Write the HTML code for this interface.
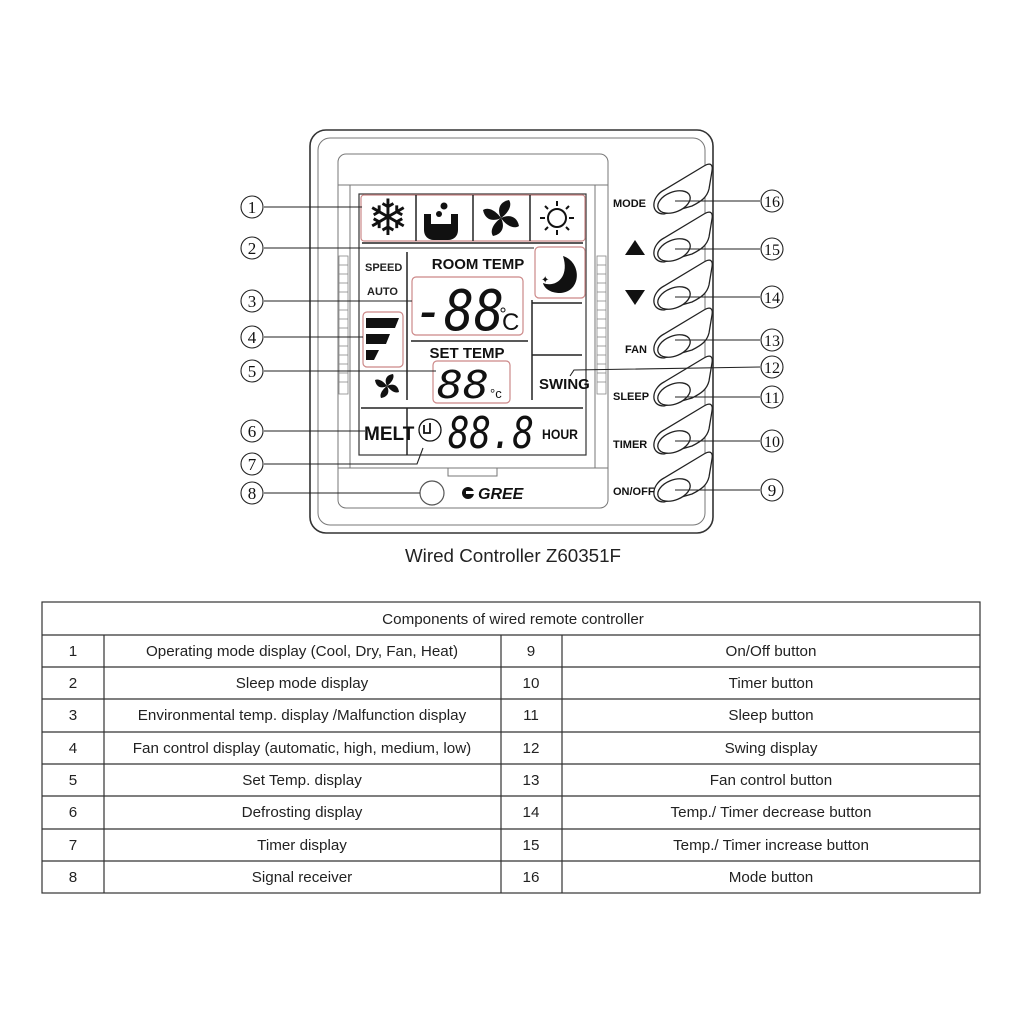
<!DOCTYPE html>
<html><head><meta charset="utf-8"><style>
body{margin:0;background:#fff;width:1024px;height:1024px;overflow:hidden}
svg{position:absolute;left:0;top:0}
</style></head><body>
<svg width="1024" height="1024" viewBox="0 0 1024 1024" font-family="Liberation Sans, sans-serif">
<defs>
<g id="btn">
<path d="M664 214 C650 214 651 197 664 190 L704 166 C711 162 713 165 712 171 L709 189 C707 197 702 201 692 206 Z" fill="#fff" stroke="#222" stroke-width="1.3"/>
<ellipse cx="674" cy="202" rx="17" ry="10" transform="rotate(-22 674 202)" fill="#fff" stroke="#222" stroke-width="1.3"/>
</g>
</defs>
<rect x="310" y="130" width="403" height="403" rx="16" fill="#fff" stroke="#333" stroke-width="1.6"/>
<rect x="318" y="138" width="387" height="387" rx="12" fill="none" stroke="#777" stroke-width="1"/>
<rect x="338" y="154" width="270" height="354" rx="8" fill="none" stroke="#777" stroke-width="1"/>
<line x1="338" y1="185" x2="608" y2="185" stroke="#777"/>
<line x1="338" y1="468" x2="608" y2="468" stroke="#777"/>
<line x1="350" y1="185" x2="350" y2="468" stroke="#777"/>
<line x1="595" y1="185" x2="595" y2="468" stroke="#777"/>
<rect x="448" y="468" width="49" height="8" fill="none" stroke="#777"/>
<g fill="none" stroke="#888" stroke-width="0.8">
<rect x="339" y="256" width="9" height="138"/>
<rect x="597" y="256" width="9" height="138"/>
</g>
<g stroke="#888" stroke-width="0.8">
<line x1="339" y1="265" x2="348" y2="265"/><line x1="339" y1="274" x2="348" y2="274"/><line x1="339" y1="283" x2="348" y2="283"/><line x1="339" y1="292" x2="348" y2="292"/><line x1="339" y1="301" x2="348" y2="301"/><line x1="339" y1="310" x2="348" y2="310"/><line x1="339" y1="319" x2="348" y2="319"/><line x1="339" y1="328" x2="348" y2="328"/><line x1="339" y1="337" x2="348" y2="337"/><line x1="339" y1="346" x2="348" y2="346"/><line x1="339" y1="355" x2="348" y2="355"/><line x1="339" y1="364" x2="348" y2="364"/><line x1="339" y1="373" x2="348" y2="373"/><line x1="339" y1="382" x2="348" y2="382"/>
<line x1="597" y1="265" x2="606" y2="265"/><line x1="597" y1="274" x2="606" y2="274"/><line x1="597" y1="283" x2="606" y2="283"/><line x1="597" y1="292" x2="606" y2="292"/><line x1="597" y1="301" x2="606" y2="301"/><line x1="597" y1="310" x2="606" y2="310"/><line x1="597" y1="319" x2="606" y2="319"/><line x1="597" y1="328" x2="606" y2="328"/><line x1="597" y1="337" x2="606" y2="337"/><line x1="597" y1="346" x2="606" y2="346"/><line x1="597" y1="355" x2="606" y2="355"/><line x1="597" y1="364" x2="606" y2="364"/><line x1="597" y1="373" x2="606" y2="373"/><line x1="597" y1="382" x2="606" y2="382"/>
</g>
<rect x="359" y="194" width="227" height="261" fill="#fff" stroke="#333" stroke-width="1.2"/>
<rect x="361" y="195" width="224" height="46" rx="3" fill="none" stroke="#c88" stroke-width="1.2"/>
<g stroke="#222" stroke-width="1.5">
<line x1="416" y1="195" x2="416" y2="241"/><line x1="473" y1="195" x2="473" y2="241"/><line x1="530" y1="195" x2="530" y2="241"/>
<line x1="362" y1="243" x2="583" y2="243"/>
<line x1="407" y1="252" x2="407" y2="400"/>
<line x1="411" y1="341" x2="528" y2="341"/>
<line x1="532" y1="300" x2="532" y2="400"/>
<line x1="532" y1="303" x2="582" y2="303"/><line x1="532" y1="355" x2="582" y2="355"/>
<line x1="361" y1="408" x2="583" y2="408"/>
<line x1="407" y1="408" x2="407" y2="455"/>
</g>
<text x="388" y="235" font-size="50" text-anchor="middle" fill="#111">❄</text>
<path d="M424 214 h7 v10 h20 v-10 h7 v16 c0 6 -4 10 -10 10 h-14 c-6 0 -10 -4 -10 -10z" fill="#111"/>
<circle cx="444" cy="206" r="3.5" fill="#111"/><circle cx="439" cy="214" r="3" fill="#111"/>
<g fill="#111" transform="translate(501,218)">
<path d="M0 0 C-4 -8 -2 -16 8 -18 C12 -12 6 -4 0 0Z"/>
<path d="M0 0 C8 -4 16 -2 18 8 C12 12 4 6 0 0Z"/>
<path d="M0 0 C4 8 2 16 -8 18 C-12 12 -6 4 0 0Z"/>
<path d="M0 0 C-8 4 -16 2 -18 -8 C-12 -12 -4 -6 0 0Z"/>
</g>
<g stroke="#111" stroke-width="2" fill="none">
<circle cx="557" cy="218" r="9"/>
<line x1="557" y1="201" x2="557" y2="206"/><line x1="557" y1="230" x2="557" y2="235"/><line x1="540" y1="218" x2="545" y2="218"/><line x1="569" y1="218" x2="574" y2="218"/>
<line x1="545" y1="206" x2="548" y2="209"/><line x1="566" y1="227" x2="569" y2="230"/><line x1="569" y1="206" x2="566" y2="209"/><line x1="548" y1="227" x2="545" y2="230"/>
</g>
<text x="365" y="271" font-size="11" font-weight="bold" fill="#222">SPEED</text>
<text x="367" y="295" font-size="11" font-weight="bold" fill="#222">AUTO</text>
<text x="478" y="269" font-size="15" font-weight="bold" text-anchor="middle" fill="#111">ROOM TEMP</text>
<rect x="535" y="247" width="50" height="51" rx="4" fill="none" stroke="#c88" stroke-width="1.2"/>
<path d="M563 256 C582 262 582 292 560 293 C550 293 544 288 543 283 C555 288 570 278 563 256Z" fill="#111"/>
<text x="541" y="283" font-size="10" fill="#111">✦</text>
<rect x="412" y="277" width="111" height="58" rx="4" fill="none" stroke="#c88" stroke-width="1.2"/>
<text x="414" y="330" font-size="56" font-family="DejaVu Sans Mono, monospace" fill="#111" textLength="90" lengthAdjust="spacingAndGlyphs" font-style="italic">-88</text>
<text x="502" y="330" font-size="24" fill="#111">C</text><circle cx="503" cy="310" r="2" fill="none" stroke="#111"/>
<text x="467" y="358" font-size="15" font-weight="bold" text-anchor="middle" fill="#111">SET TEMP</text>
<rect x="433" y="361" width="77" height="42" rx="4" fill="none" stroke="#c88" stroke-width="1.2"/>
<text x="437" y="398" font-size="38" font-family="DejaVu Sans Mono, monospace" fill="#111" textLength="52" lengthAdjust="spacingAndGlyphs" font-style="italic">88</text>
<text x="490" y="398" font-size="13" fill="#111">°c</text>
<rect x="363" y="312" width="40" height="55" rx="4" fill="none" stroke="#c88" stroke-width="1.2"/>
<path d="M366 318 h33 l-4 10 h-29z M366 334 h24 l-4 10 h-20z M366 350 h13 l-5 10 h-8z" fill="#111"/>
<g fill="#111" transform="translate(387,386)">
<path d="M0 0 C-3 -6 -1 -11 6 -12 C8 -8 4 -3 0 0Z"/>
<path d="M0 0 C6 -3 11 -1 12 6 C8 8 3 4 0 0Z"/>
<path d="M0 0 C3 6 1 11 -6 12 C-8 8 -4 3 0 0Z"/>
<path d="M0 0 C-6 3 -11 1 -12 -6 C-8 -8 -3 -4 0 0Z"/>
</g>
<text x="539" y="389" font-size="15" font-weight="bold" fill="#111">SWING</text>
<text x="364" y="440" font-size="19" font-weight="bold" fill="#111">MELT</text>
<circle cx="430" cy="430" r="11" fill="#fff" stroke="#111" stroke-width="1.3"/>
<path d="M424 425 v8 h6 v-10" fill="none" stroke="#111" stroke-width="1.8"/>
<text x="448" y="448" font-size="44" font-family="DejaVu Sans Mono, monospace" fill="#111" textLength="86" lengthAdjust="spacingAndGlyphs" font-style="italic">88.8</text>
<text x="542" y="439" font-size="14" font-weight="bold" fill="#111" textLength="36" lengthAdjust="spacingAndGlyphs">HOUR</text>
<circle cx="432" cy="493" r="12" fill="#fff" stroke="#555" stroke-width="1.2"/>
<circle cx="468" cy="493" r="6" fill="#111"/><rect x="466" y="491" width="8" height="3" fill="#fff"/>
<text x="478" y="499" font-size="16" font-weight="bold" font-style="italic" fill="#111">GREE</text>
<use href="#btn"/>
<use href="#btn" y="48"/>
<use href="#btn" y="96"/>
<use href="#btn" y="144"/>
<use href="#btn" y="192"/>
<use href="#btn" y="240"/>
<use href="#btn" y="288"/>
<g font-size="11" font-weight="bold" fill="#111">
<text x="613" y="207">MODE</text>
<text x="625" y="353">FAN</text>
<text x="613" y="400">SLEEP</text>
<text x="613" y="448">TIMER</text>
<text x="613" y="495">ON/OFF</text>
</g>
<path d="M635 240 l10 15 h-20z" fill="#111"/>
<path d="M625 290 h20 l-10 15z" fill="#111"/>
<g stroke="#222" stroke-width="1.1" fill="none">
<line x1="264" y1="207" x2="362" y2="207"/>
<line x1="264" y1="248" x2="534" y2="248"/>
<line x1="264" y1="301" x2="412" y2="301"/>
<line x1="264" y1="337" x2="363" y2="337"/>
<line x1="264" y1="371" x2="436" y2="371"/>
<line x1="264" y1="431" x2="365" y2="431"/>
<polyline points="264,464 417,464 423,448"/>
<line x1="264" y1="493" x2="420" y2="493"/>
<line x1="675" y1="201" x2="760" y2="201"/>
<line x1="675" y1="249" x2="760" y2="249"/>
<line x1="675" y1="297" x2="760" y2="297"/>
<line x1="675" y1="340" x2="760" y2="340"/>
<polyline points="760,367 574,370 570,376"/>
<line x1="675" y1="397" x2="760" y2="397"/>
<line x1="675" y1="441" x2="760" y2="441"/>
<line x1="675" y1="490" x2="760" y2="490"/>
</g>
<g fill="#fff" stroke="#222" stroke-width="1.1">
<circle cx="252" cy="207" r="11"/><circle cx="252" cy="248" r="11"/><circle cx="252" cy="301" r="11"/><circle cx="252" cy="337" r="11"/><circle cx="252" cy="371" r="11"/><circle cx="252" cy="431" r="11"/><circle cx="252" cy="464" r="11"/><circle cx="252" cy="493" r="11"/>
<circle cx="772" cy="201" r="11"/><circle cx="772" cy="249" r="11"/><circle cx="772" cy="297" r="11"/><circle cx="772" cy="340" r="11"/><circle cx="772" cy="367" r="11"/><circle cx="772" cy="397" r="11"/><circle cx="772" cy="441" r="11"/><circle cx="772" cy="490" r="11"/>
</g>
<g font-family="Liberation Serif, serif" font-size="17" text-anchor="middle" fill="#111">
<text x="252" y="213">1</text><text x="252" y="254">2</text><text x="252" y="307">3</text><text x="252" y="343">4</text><text x="252" y="377">5</text><text x="252" y="437">6</text><text x="252" y="470">7</text><text x="252" y="499">8</text>
<g font-size="16"><text x="772" y="207">16</text><text x="772" y="255">15</text><text x="772" y="303">14</text><text x="772" y="346">13</text><text x="772" y="373">12</text><text x="772" y="403">11</text><text x="772" y="447">10</text></g><text x="772" y="496">9</text>
</g>
<text x="513" y="562" font-size="18.8" text-anchor="middle" fill="#222">Wired Controller Z60351F</text>
<g stroke="#333" stroke-width="1.2" fill="none">
<rect x="42" y="602" width="938" height="291"/>
<line x1="42" y1="635" x2="980" y2="635"/>
<line x1="42" y1="667" x2="980" y2="667"/><line x1="42" y1="699" x2="980" y2="699"/><line x1="42" y1="732" x2="980" y2="732"/><line x1="42" y1="764" x2="980" y2="764"/><line x1="42" y1="796" x2="980" y2="796"/><line x1="42" y1="829" x2="980" y2="829"/><line x1="42" y1="861" x2="980" y2="861"/>
<line x1="104" y1="635" x2="104" y2="893"/><line x1="501" y1="635" x2="501" y2="893"/><line x1="562" y1="635" x2="562" y2="893"/>
</g>
<g font-size="15.2" fill="#222" text-anchor="middle">
<text x="513" y="624">Components of wired remote controller</text>
<text x="73" y="656">1</text><text x="302" y="656">Operating mode display (Cool, Dry, Fan, Heat)</text><text x="531" y="656">9</text><text x="771" y="656">On/Off button</text>
<text x="73" y="688">2</text><text x="302" y="688">Sleep mode display</text><text x="531" y="688">10</text><text x="771" y="688">Timer button</text>
<text x="73" y="720">3</text><text x="302" y="720">Environmental temp. display /Malfunction display</text><text x="531" y="720">11</text><text x="771" y="720">Sleep button</text>
<text x="73" y="753">4</text><text x="302" y="753">Fan control display (automatic, high, medium, low)</text><text x="531" y="753">12</text><text x="771" y="753">Swing display</text>
<text x="73" y="785">5</text><text x="302" y="785">Set Temp. display</text><text x="531" y="785">13</text><text x="771" y="785">Fan control button</text>
<text x="73" y="817">6</text><text x="302" y="817">Defrosting display</text><text x="531" y="817">14</text><text x="771" y="817">Temp./ Timer decrease button</text>
<text x="73" y="850">7</text><text x="302" y="850">Timer display</text><text x="531" y="850">15</text><text x="771" y="850">Temp./ Timer increase button</text>
<text x="73" y="882">8</text><text x="302" y="882">Signal receiver</text><text x="531" y="882">16</text><text x="771" y="882">Mode button</text>
</g>
</svg>
</body></html>
